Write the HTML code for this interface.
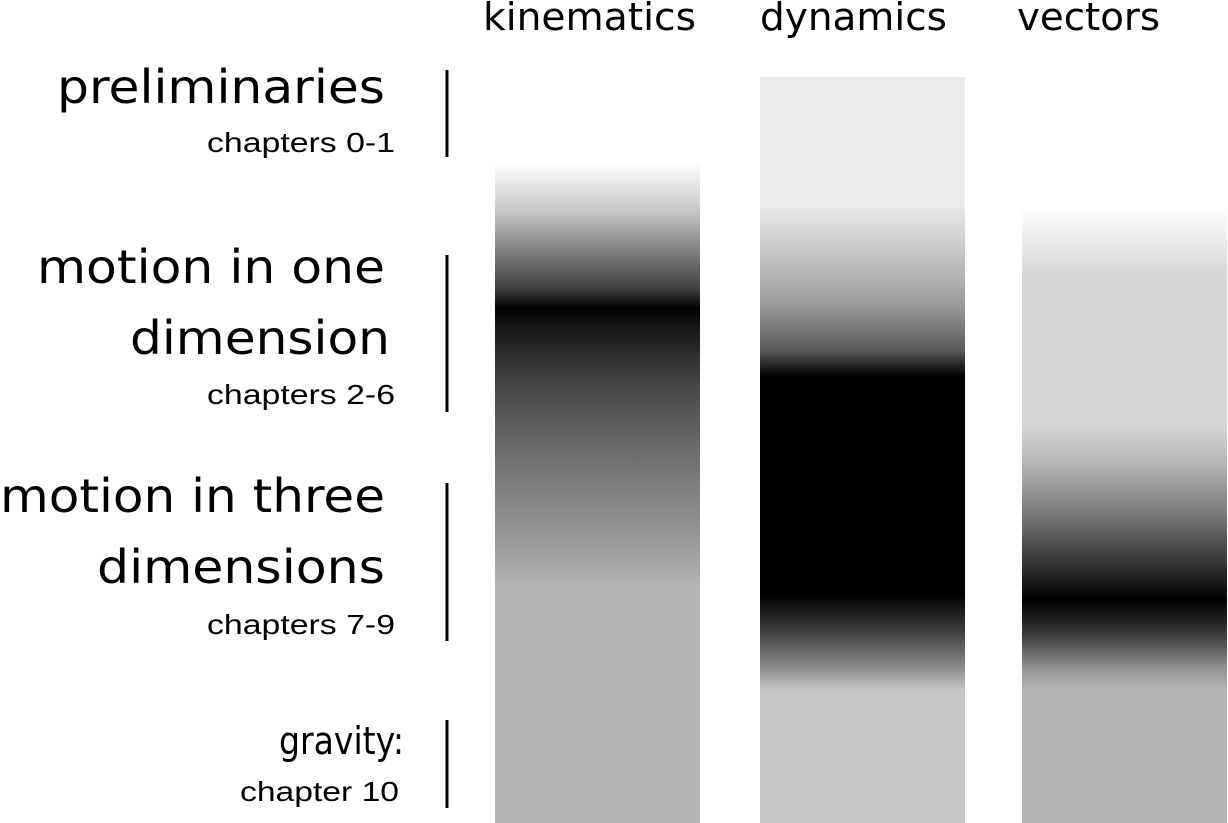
<!DOCTYPE html>
<html><head><meta charset="utf-8"><style>
html,body{margin:0;padding:0;background:#fff;width:1228px;height:823px;overflow:hidden}
svg{display:block;font-family:"DejaVu Sans","Liberation Sans",sans-serif}
</style></head><body>
<svg id="chart" width="1228" height="823"></svg>
<script>
const columns = ["kinematics", "dynamics", "vectors"];
const columnTop = [163, 77, 208];
const stopY = [
  [163, 210, 250, 290, 308, 335, 385, 435, 485, 535, 588, 823],
  [77, 205, 250, 300, 350, 376, 595, 630, 668, 690, 823],
  [208, 275, 425, 465, 515, 565, 600, 635, 670, 690, 823]
];
const stopGray = [
  [255, 200, 130, 60, 0, 30, 70, 100, 125, 150, 180, 180],
  [234, 234, 200, 160, 90, 0, 0, 60, 140, 198, 198],
  [255, 214, 214, 180, 120, 50, 0, 60, 150, 180, 180]
];
const sections = ["preliminaries", "motion in one|dimension", "motion in three|dimensions", "gravity:"];
const sectionChapters = ["chapters 0-1", "chapters 2-6", "chapters 7-9", "chapter 10"];
const sectionSpan = [[70,157],[255,412],[483,641],[720,808]];

const NS = "http://www.w3.org/2000/svg";
const svg = document.getElementById("chart");
const colX = [495, 760, 1022], colW = 205;
const headX = [[483,213],[760,187],[1017,143]];
const defs = document.createElementNS(NS, "defs");
svg.appendChild(defs);
function mk(tag, attrs, parent){ const e=document.createElementNS(NS,tag); for(const k in attrs) e.setAttribute(k,attrs[k]); (parent||svg).appendChild(e); return e; }

columns.forEach((c,i)=>{
  const g = mk("linearGradient",{id:"g"+i,gradientUnits:"userSpaceOnUse",x1:0,x2:0,y1:0,y2:823},defs);
  stopY[i].forEach((y,j)=>{ const v=stopGray[i][j]; mk("stop",{offset:(y/823),"stop-color":`rgb(${v},${v},${v})`},g); });
  const r = mk("rect",{x:colX[i],y:columnTop[i],width:colW,height:823-columnTop[i],fill:`url(#g${i})`});
  
  
  const t = mk("text",{x:headX[i][0],y:30,"font-size":"38",fill:"#000",textLength:headX[i][1],lengthAdjust:"spacingAndGlyphs"});
  t.textContent = c;
  
  
});

const titleY = [[103],[283,354],[512,583],[754]];
const titlePos = [[[57,328]],[[37,348],[130,260]],[[0,385],[97,288]],[[279,125]]];
const chapY = [152, 404, 634, 801];
const chapPos = [[207,188],[207,188],[207,188],[240,159]];
sections.forEach((s,i)=>{
  const lines = s.split("|");
  const big = i<3 ? 46 : 38;
  lines.forEach((ln,k)=>{
    const t = mk("text",{x:titlePos[i][k][0], y:titleY[i][k],"font-size":big,fill:"#000",textLength:titlePos[i][k][1],lengthAdjust:"spacingAndGlyphs"});
    t.textContent = ln;
    
    
  });
  const c = mk("text",{x:chapPos[i][0], y:chapY[i],"font-size":"28",fill:"#000","font-family":"Liberation Sans, sans-serif",textLength:chapPos[i][1],lengthAdjust:"spacingAndGlyphs"});
  c.textContent = sectionChapters[i];
  
  
  const l = mk("line",{x1:447,x2:447,y1:sectionSpan[i][0],y2:sectionSpan[i][1],stroke:"#000","stroke-width":3});
  
  
});
</script>
</body></html>
